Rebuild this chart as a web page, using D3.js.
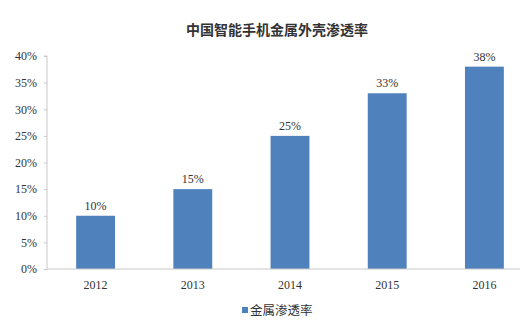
<!DOCTYPE html>
<html><head><meta charset="utf-8">
<script src="https://cdn.jsdelivr.net/npm/d3@7"></script>
<style>body{margin:0;background:#fff}</style>
</head><body>
<svg id="c" width="520" height="324"></svg>
<script>
const categories = ["2012","2013","2014","2015","2016"];
const values = [10, 15, 25, 33, 38];
const yTicks = [0,5,10,15,20,25,30,35,40];
const title = "中国智能手机金属外壳渗透率";
const seriesName = "金属渗透率";

const svg = d3.select("#c");
const serif = "'Liberation Serif','Times New Roman',serif";
const cjk = "'Noto Sans CJK SC',sans-serif";
const x = d3.scaleBand().domain(categories).range([47, 533]).paddingInner(0.6).paddingOuter(0.3);
const y = d3.scaleLinear().domain([0,40]).range([269, 56]);

svg.append("text").attr("x",277).attr("y",35).attr("text-anchor","middle")
  .attr("font-family",cjk).attr("font-weight","bold").attr("font-size",14).attr("fill","#333").text(title);

const ya = svg.append("g").attr("transform","translate(47,0)")
  .call(d3.axisLeft(y).tickValues(yTicks).tickFormat(d=>d+"%").tickSize(3).tickPadding(7));
ya.select(".domain").attr("stroke","#c8c8c8").attr("d","M-3,56H0V269");
ya.selectAll(".tick line").attr("stroke","#c8c8c8");
ya.selectAll("text").attr("font-family",serif).attr("font-size",12).attr("fill","#333");

svg.selectAll("rect.bar").data(values).join("rect").attr("class","bar")
  .attr("x",(d,i)=>x(categories[i])).attr("width",x.bandwidth())
  .attr("y",d=>y(d)).attr("height",d=>y(0)-y(d)).attr("fill","#4F81BD");

svg.selectAll("text.val").data(values).join("text").attr("class","val")
  .attr("x",(d,i)=>x(categories[i])+x.bandwidth()/2).attr("y",d=>y(d)-6)
  .attr("text-anchor","middle").attr("font-family",serif).attr("font-size",12).attr("fill","#333")
  .text(d=>d+"%");

const xa = svg.append("g").attr("transform","translate(0,269)")
  .call(d3.axisBottom(x).tickSize(0).tickPadding(11));
xa.select(".domain").attr("stroke","#c8c8c8").attr("d","M47,0H520");
xa.selectAll("text").attr("font-family",serif).attr("font-size",12).attr("fill","#333");

svg.append("rect").attr("x",242).attr("y",307).attr("width",6).attr("height",6).attr("fill","#4F81BD");
svg.append("text").attr("x",250).attr("y",315).attr("font-family",cjk).attr("font-size",12.5).attr("fill","#333").text(seriesName);
</script>
</body></html>
